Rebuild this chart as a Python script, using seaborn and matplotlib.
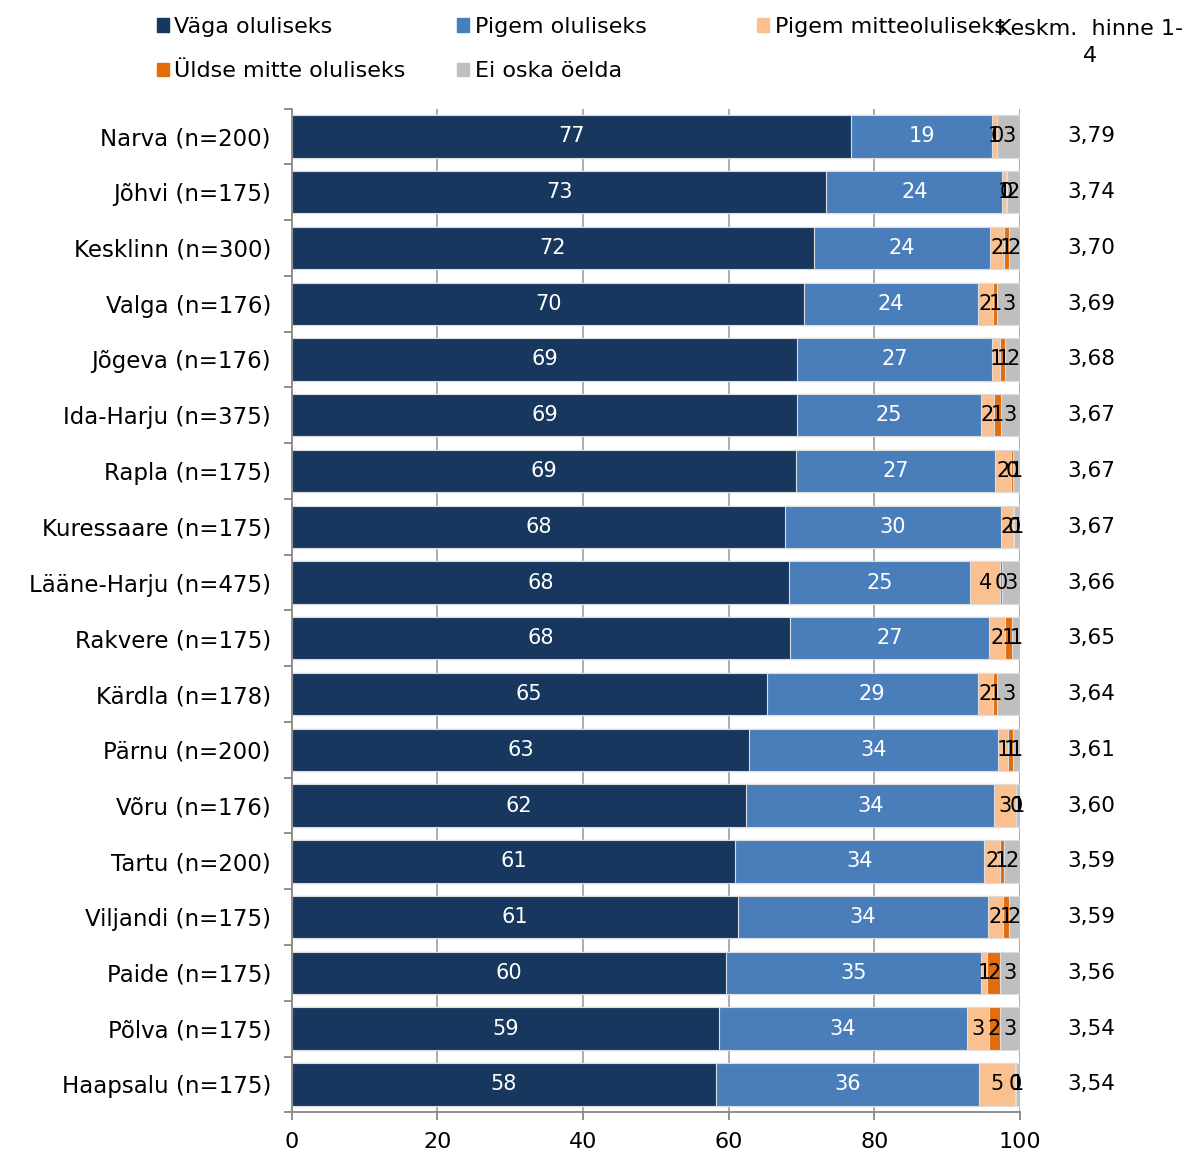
import numpy as np
import pandas as pd
import matplotlib
matplotlib.use('Agg')
import matplotlib.pyplot as plt
import seaborn as sns

# andmed (loetud pildilt)
kohad = ['Narva (n=200)', 'Jõhvi (n=175)', 'Kesklinn (n=300)', 'Valga (n=176)',
         'Jõgeva (n=176)', 'Ida-Harju (n=375)', 'Rapla (n=175)', 'Kuressaare (n=175)',
         'Lääne-Harju (n=475)', 'Rakvere (n=175)', 'Kärdla (n=178)', 'Pärnu (n=200)',
         'Võru (n=176)', 'Tartu (n=200)', 'Viljandi (n=175)', 'Paide (n=175)',
         'Põlva (n=175)', 'Haapsalu (n=175)']
vaga = [76.8, 73.4, 71.7, 70.4, 69.4, 69.4, 69.2, 67.7, 68.3, 68.4, 65.2, 62.8, 62.4, 60.9, 61.3, 59.7, 58.7, 58.2]
pigem = [19.4, 24.2, 24.2, 23.8, 26.8, 25.2, 27.4, 29.7, 24.9, 27.4, 29.0, 34.2, 34.1, 34.2, 34.3, 35.0, 34.0, 36.2]
pigem_mitte = [0.6, 0.5, 1.9, 2.1, 1.1, 1.9, 2.2, 1.7, 4.1, 2.1, 2.1, 1.4, 2.9, 2.1, 2.1, 0.8, 3.0, 4.9]
yldse_mitte = [0.1, 0.1, 0.7, 0.6, 0.7, 0.9, 0.2, 0.1, 0.2, 1.0, 0.6, 0.6, 0.1, 0.6, 0.8, 1.8, 1.6, 0.1]
ei_oska = [3.1, 1.8, 1.5, 3.1, 2.0, 2.6, 1.0, 0.8, 2.5, 1.1, 3.1, 1.0, 0.5, 2.2, 1.5, 2.7, 2.7, 0.6]
keskmine = ['3,79', '3,74', '3,70', '3,69', '3,68', '3,67', '3,67', '3,67', '3,66',
            '3,65', '3,64', '3,61', '3,60', '3,59', '3,59', '3,56', '3,54', '3,54']

seeriad = ['Väga oluliseks', 'Pigem oluliseks', 'Pigem mitteoluliseks',
           'Üldse mitte oluliseks', 'Ei oska öelda']
varvid = ['#17375e', '#4a7ebb', '#fac090', '#e46c0a', '#bfbfbf']
tekstivarvid = ['white', 'white', 'black', 'black', 'black']

df = pd.DataFrame({'koht': kohad, seeriad[0]: vaga, seeriad[1]: pigem,
                   seeriad[2]: pigem_mitte, seeriad[3]: yldse_mitte, seeriad[4]: ei_oska})
kum = df[seeriad].cumsum(axis=1)

sns.set_style('white')
plt.rcParams['font.family'] = ['DejaVu Sans']
plt.rcParams['text.color'] = 'black'
plt.rcParams['xtick.color'] = '#868686'
plt.rcParams['xtick.labelcolor'] = 'black'
plt.rcParams['ytick.color'] = '#868686'
plt.rcParams['ytick.labelcolor'] = 'black'

fig = plt.figure(figsize=(11.86, 11.55), dpi=100)
ax = fig.add_axes([0.246, 0.037, 0.614, 0.869])

# vertikaalsed abijooned
for xv in [20, 40, 60, 80, 100]:
    ax.axvline(xv, color='#a6a6a6', lw=1.3, zorder=0)

# kuhjatud tulbad - tagant ettepoole
for j in range(len(seeriad) - 1, -1, -1):
    sns.barplot(x=kum[seeriad[j]], y=df['koht'], orient='h', color=varvid[j],
                width=0.76, edgecolor='#dddddd', linewidth=0.8, saturation=1,
                ax=ax, zorder=2)

# väärtuste sildid
for i in range(len(kohad)):
    algus = 0
    for j, s in enumerate(seeriad):
        v = df[s].iloc[i]
        ax.text(algus + v / 2, i, str(int(v + 0.5)), ha='center', va='center',
                fontsize=15, color=tekstivarvid[j], zorder=3)
        algus += v
    # keskmine hinne
    ax.text(1.065, i, keskmine[i], transform=ax.get_yaxis_transform(),
            ha='left', va='center', fontsize=15.5, color='black')

ax.set_xlim(0, 100)
ax.set_ylim(len(kohad) - 0.5, -0.5)
ax.set_xticks([0, 20, 40, 60, 80, 100])
ax.set_xticklabels(['0', '20', '40', '60', '80', '100'], fontsize=16)
ax.set_yticks(np.arange(len(kohad)))
ax.set_yticklabels(kohad, fontsize=16.5)
ax.set_xlabel('')
ax.set_ylabel('')
ax.set_yticks(np.arange(-0.5, len(kohad), 1), minor=True)
ax.tick_params(axis='y', which='major', left=False, length=0, pad=15)
ax.tick_params(axis='y', which='minor', left=True, length=6, width=1.3)
ax.tick_params(axis='x', bottom=True, length=6, width=1.3, pad=8)
for k in ['top', 'right']:
    ax.spines[k].set_visible(False)
for k in ['left', 'bottom']:
    ax.spines[k].set_color('#868686')
    ax.spines[k].set_linewidth(1.3)

# legend - kolm veergu eraldi
kast = [plt.Rectangle((0, 0), 1, 1, color=c) for c in varvid]
veerud = [[0, 3], [1, 4], [2]]
veeru_x = [0.119, 0.372, 0.625]
for vx, idx in zip(veeru_x, veerud):
    fig.legend([kast[k] for k in idx], [seeriad[k] for k in idx], loc='upper left',
               bbox_to_anchor=(vx, 0.999), ncol=1, frameon=False, fontsize=16,
               handlelength=0.55, handleheight=0.55, handletextpad=0.25,
               labelspacing=1.1, borderaxespad=0.3)

fig.text(0.919, 0.963, 'Keskm.  hinne 1-\n4', ha='center', va='center',
         fontsize=16, linespacing=1.45, multialignment='center')

fig.savefig('out.png', dpi=100)
